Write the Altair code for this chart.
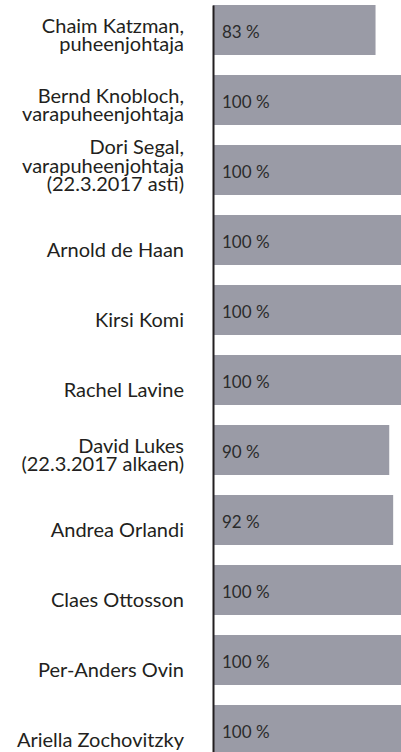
import altair as alt
import pandas as pd

NB = "\u00a0"
names = [
    "Chaim Katzman,\npuheenjohtaja",
    "Bernd Knobloch,\nvarapuheenjohtaja",
    "Dori Segal,\nvarapuheenjohtaja\n(22.3.2017 asti)",
    "Arnold de Haan" + NB * 3,
    "Kirsi Komi" + NB * 3,
    "Rachel Lavine" + NB * 3,
    "David Lukes\n(22.3.2017 alkaen)",
    "Andrea Orlandi",
    "Claes Ottosson",
    "Per-Anders Ovin",
    "Ariella Zochovitzky",
]
values = [83, 100, 100, 100, 100, 100, 90, 92, 100, 100, 100]

LH = 18.5

df = pd.DataFrame({"name": names, "v": values})

base = alt.Chart(df).encode(
    y=alt.Y(
        "name:N",
        sort=None,
        scale=alt.Scale(range=[5, 755], paddingInner=2 / 7, paddingOuter=0),
        axis=alt.Axis(
            title=None,
            domain=True,
            domainColor="#231f20",
            domainWidth=2,
            ticks=False,
            grid=False,
            labels=False,
            zindex=1,
        ),
    )
)

bars = base.mark_bar(color="#9a9ba6").encode(
    x=alt.X("v:Q", scale=alt.Scale(domain=[0, 96], nice=False), axis=None)
)

values_text = base.transform_calculate(
    lbl="format(datum.v, 'd') + ' %'"
).mark_text(
    align="left", baseline="alphabetic", dx=9, dy=8, font="Lato", fontSize=17, color="#2b2b2b"
).encode(x=alt.value(0), text="lbl:N")

name_text = base.transform_calculate(
    n="length(split(datum.name, '\\n'))"
).transform_calculate(
    yo=f"42 - (datum.n - 1) * {LH} + (datum.n > 1 ? 4 : 0)"
).mark_text(
    align="right", baseline="alphabetic", lineBreak="\n", lineHeight=LH,
    font="Lato", fontSize=20, color="#231f20",
).encode(
    x=alt.value(-29),
    yOffset=alt.YOffset("yo:Q", scale=None),
    text="name:N",
)

chart = (bars + values_text + name_text).properties(
    width=188,
    height=752,
    padding={"left": 213, "top": 0, "right": 0, "bottom": 0},
    autosize="none",
).configure_view(stroke=None)

chart.save("out.html", embed_options={"renderer": "svg", "actions": False})
